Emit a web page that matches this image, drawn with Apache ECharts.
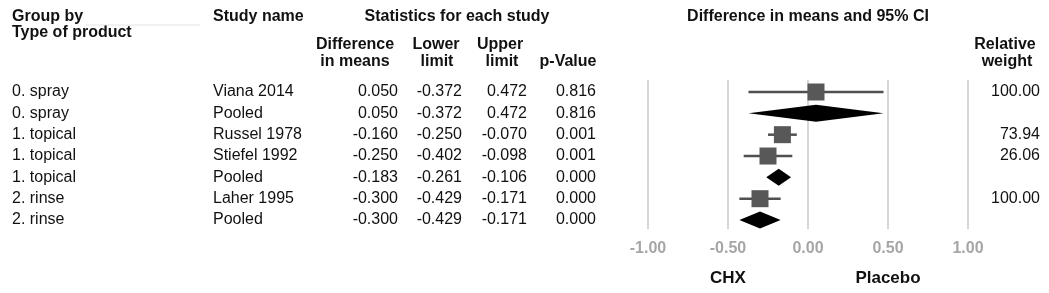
<!DOCTYPE html>
<html>
<head>
<meta charset="utf-8">
<script src="https://cdn.jsdelivr.net/npm/echarts@6/dist/echarts.min.js"></script>
<style>
  html, body { margin: 0; padding: 0; background: #fff; }
  #chart { width: 1049px; height: 293px; }
</style>
</head>
<body>
<div id="chart"></div>
<script>
// table data
const groups = ['0. spray', '0. spray', '1. topical', '1. topical', '1. topical', '2. rinse', '2. rinse'];
const studies = ['Viana 2014', 'Pooled', 'Russel 1978', 'Stiefel 1992', 'Pooled', 'Laher 1995', 'Pooled'];
const diffMeans = [0.050, 0.050, -0.160, -0.250, -0.183, -0.300, -0.300];
const lowerLimits = [-0.372, -0.372, -0.250, -0.402, -0.261, -0.429, -0.429];
const upperLimits = [0.472, 0.472, -0.070, -0.098, -0.106, -0.171, -0.171];
const pValues = ['0.816', '0.816', '0.001', '0.001', '0.000', '0.000', '0.000'];
const relWeights = ['100.00', '', '73.94', '26.06', '', '100.00', ''];
const isPooled = [false, true, false, false, true, false, true];
const xTicks = [-1, -0.5, 0, 0.5, 1];

const font = "'Liberation Sans', Arial, sans-serif";
const txt = '#111';

const myChart = echarts.init(document.getElementById('chart'));

const rows = studies.map((s, i) => [diffMeans[i], i, lowerLimits[i], upperLimits[i], isPooled[i] ? 1 : 0]);

// 表格文字 (y from the row scale)
function tableItem(params, api) {
  const i = api.value(1);
  const y = api.coord([0, i])[1];
  const base = { fontFamily: font, fontSize: 16, fill: txt, verticalAlign: 'middle' };
  const t = (x, text, align) => ({
    type: 'text',
    style: Object.assign({}, base, { x: x, y: y, text: text, align: align || 'left' })
  });
  return {
    type: 'group',
    children: [
      t(12, groups[i]),
      t(213, studies[i]),
      t(398, diffMeans[i].toFixed(3), 'right'),
      t(462, lowerLimits[i].toFixed(3), 'right'),
      t(527, upperLimits[i].toFixed(3), 'right'),
      t(596, pValues[i], 'right'),
      t(1040, relWeights[i], 'right')
    ]
  };
}

// 森林图
function forestItem(params, api) {
  const i = api.value(1);
  const c = api.coord([api.value(0), i]);
  const lo = api.coord([api.value(2), i]);
  const hi = api.coord([api.value(3), i]);
  if (api.value(4) === 1) {
    const h = 8.5;
    return {
      type: 'polygon',
      shape: { points: [[lo[0], c[1]], [c[0], c[1] - h], [hi[0], c[1]], [c[0], c[1] + h]] },
      style: { fill: '#000' }
    };
  }
  const s = 17;
  return {
    type: 'group',
    children: [
      { type: 'line', shape: { x1: lo[0], y1: c[1], x2: hi[0], y2: c[1] }, style: { stroke: '#505050', lineWidth: 2.5 } },
      { type: 'rect', shape: { x: c[0] - s / 2, y: c[1] - s / 2, width: s, height: s }, style: { fill: '#585858' } }
    ]
  };
}

const hdr = (x, y, text, align, size) => ({
  type: 'text',
  x: x, y: y,
  style: { text: text, fontFamily: font, fontSize: size || 16, fontWeight: 'bold', fill: txt, align: align || 'left', verticalAlign: 'middle' }
});

myChart.setOption({
  animation: false,
  grid: { left: 648, right: 81, top: 80, bottom: 64 },
  xAxis: {
    type: 'value',
    min: -1, max: 1, interval: 0.5,
    axisLine: { show: false },
    axisTick: { show: false },
    splitLine: { show: true, lineStyle: { color: '#c8c8c8', width: 1.5 } },
    axisLabel: {
      margin: 12,
      fontFamily: font, fontSize: 16, fontWeight: 'bold', color: '#a6a6a6',
      formatter: v => v.toFixed(2)
    }
  },
  yAxis: {
    type: 'value', inverse: true, min: -0.5625, max: 6.42, show: false
  },
  series: [
    { type: 'custom', renderItem: forestItem, data: rows, clip: false },
    { type: 'custom', renderItem: tableItem, data: rows, clip: false, silent: true }
  ],
  graphic: [
    hdr(12, 17, 'Group by'),
    hdr(12, 33, 'Type of product'),
    hdr(213, 17, 'Study name'),
    hdr(457, 17, 'Statistics for each study', 'center'),
    hdr(355, 45, 'Difference', 'center'),
    hdr(355, 62, 'in means', 'center'),
    hdr(436, 45, 'Lower', 'center'),
    hdr(437, 62, 'limit', 'center'),
    hdr(500, 45, 'Upper', 'center'),
    hdr(502, 62, 'limit', 'center'),
    hdr(568, 62, 'p-Value', 'center'),
    hdr(808, 17, 'Difference in means and 95% CI', 'center'),
    hdr(1005, 45, 'Relative', 'center'),
    hdr(1007, 62, 'weight', 'center'),
    {
      type: 'line', shape: { x1: 86, y1: 25, x2: 200, y2: 25 },
      style: { stroke: '#e4e4e4', lineWidth: 1 }
    },
    hdr(728, 278, 'CHX', 'center', 17),
    hdr(888, 278, 'Placebo', 'center', 17)
  ]
});
window.addEventListener('resize', () => myChart.resize());
</script>
</body>
</html>
